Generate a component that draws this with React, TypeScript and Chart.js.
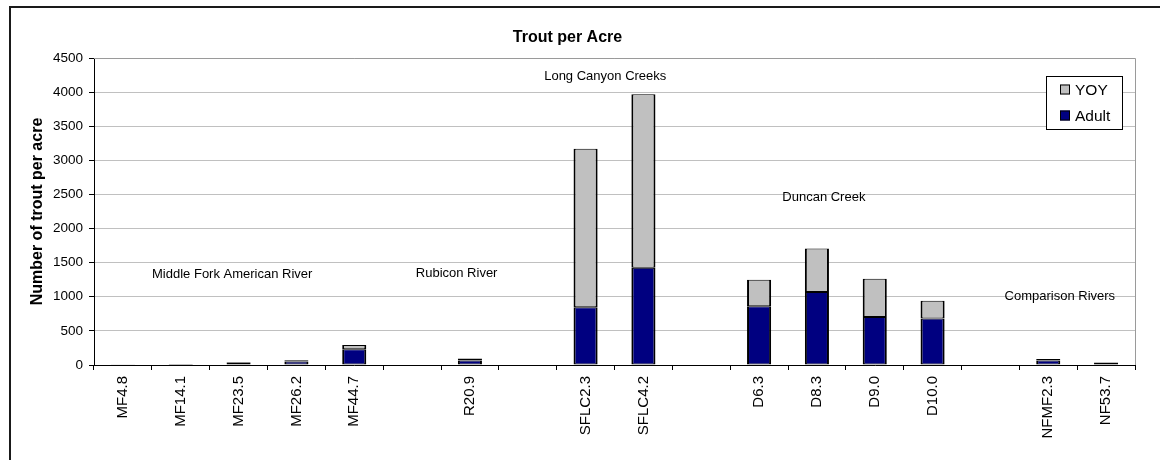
import React, { useEffect, useRef } from 'react';
import { Chart, registerables } from 'chart.js';

Chart.register(...registerables);

const categories = ['MF4.8', 'MF14.1', 'MF23.5', 'MF26.2', 'MF44.7', '', 'R20.9', '', 'SFLC2.3', 'SFLC4.2', '', 'D6.3', 'D8.3', 'D9.0', 'D10.0', '', 'NFMF2.3', 'NF53.7'];
const adultValues = [6, 8, 35, 50, 230, null, 65, null, 845, 1426, null, 860, 1070, 703, 683, null, 65, 30];
const yoyValues = [4, 5, 8, 20, 63, null, 32, null, 2325, 2544, null, 390, 639, 562, 259, null, 23, 8];
const seriesNames = ['Adult', 'YOY'];
const seriesColors = ['#000080', '#C0C0C0'];

const yMin = 0;
const yMax = 4500;
const yStep = 500;

const groupNotes = ['Middle Fork American River', 'Rubicon River', 'Long Canyon Creeks', 'Duncan Creek', 'Comparison Rivers'];
const noteCategoryPos = [1.89, 5.77, 8.34, 12.12, 16.2];
const noteValuePos = [1324, 1349, 4231, 2463, 1006];

const FONT = '"Liberation Sans", Arial, Helvetica, sans-serif';

const decorPlugin = {
  id: 'decor',
  afterDatasetsDraw(chart: any) {
    const { ctx, chartArea, scales } = chart;
    const x = scales.x;
    const y = scales.y;
    ctx.save();
    // plot area top/right border
    ctx.strokeStyle = '#9a9a9a';
    ctx.lineWidth = 1;
    ctx.beginPath();
    ctx.moveTo(chartArea.left, chartArea.top + 0.5);
    ctx.lineTo(chartArea.right + 0.5, chartArea.top + 0.5);
    ctx.lineTo(chartArea.right + 0.5, chartArea.bottom);
    ctx.stroke();

    // group notes
    ctx.fillStyle = '#000';
    ctx.font = `13px ${FONT}`;
    ctx.textAlign = 'center';
    ctx.textBaseline = 'middle';
    groupNotes.forEach((t, i) => {
      ctx.fillText(t, x.getPixelForValue(noteCategoryPos[i]), y.getPixelForValue(noteValuePos[i]));
    });

    // legend
    const lw = 76;
    const lh = 53;
    const lx = chartArea.right - 13 - lw;
    const ly = chartArea.top + 18;
    ctx.fillStyle = '#fff';
    ctx.fillRect(lx, ly, lw, lh);
    ctx.strokeStyle = '#000';
    ctx.strokeRect(lx + 0.5, ly + 0.5, lw, lh);
    const items = [1, 0];
    ctx.font = `15.5px ${FONT}`;
    ctx.textAlign = 'left';
    items.forEach((di, k) => {
      const cy = ly + 13.5 + k * 26;
      ctx.fillStyle = seriesColors[di];
      ctx.fillRect(lx + 14, cy - 5, 10, 10);
      ctx.strokeStyle = '#000';
      ctx.strokeRect(lx + 14.5, cy - 4.5, 9, 9);
      ctx.fillStyle = '#000';
      ctx.fillText(seriesNames[di], lx + 29, cy + 1);
    });

    // outer chart border
    ctx.fillStyle = '#1a1a1a';
    ctx.fillRect(9, 6, chart.width - 9, 2);
    ctx.fillRect(9, 6, 2, chart.height - 6);
    ctx.restore();
  },
};

export default function App() {
  const ref = useRef<HTMLCanvasElement>(null);
  useEffect(() => {
    document.body.style.margin = '0';
    const barStyle = {
      borderColor: '#000',
      borderWidth: { left: 2, right: 2, top: 1, bottom: 1 },
      borderSkipped: false,
      categoryPercentage: 1,
      barPercentage: 1 / 2.4,
    };
    const chart = new Chart(ref.current as HTMLCanvasElement, {
      type: 'bar',
      data: {
        labels: categories,
        datasets: [
          { label: seriesNames[0], data: adultValues, backgroundColor: seriesColors[0], ...barStyle },
          { label: seriesNames[1], data: yoyValues, backgroundColor: seriesColors[1], ...barStyle },
        ],
      },
      options: {
        responsive: false,
        animation: false,
        events: [],
        layout: { padding: { left: 0, top: 28, right: 25, bottom: 0 } },
        plugins: {
          legend: { display: false },
          tooltip: { enabled: false },
          title: {
            display: true,
            text: 'Trout per Acre',
            color: '#000',
            font: { family: FONT, size: 16, weight: 'bold', lineHeight: 1.2 },
            padding: { top: 0, bottom: 10.8 },
          },
        },
        scales: {
          x: {
            stacked: true,
            offset: true,
            grid: {
              display: true,
              drawOnChartArea: false,
              drawTicks: true,
              tickLength: 5,
              offset: true,
              tickColor: '#000',
            },
            border: { color: '#000', width: 1 },
            ticks: {
              color: '#000',
              font: { family: FONT, size: 15 },
              minRotation: 90,
              maxRotation: 90,
              autoSkip: false,
              padding: 6,
            },
            afterFit: (s: any) => {
              s.height = 95;
            },
          },
          y: {
            stacked: true,
            min: yMin,
            max: yMax,
            grid: {
              color: '#c0c0c0',
              tickColor: '#000',
              tickLength: 5,
              drawTicks: true,
            },
            border: { color: '#000', width: 1 },
            ticks: {
              stepSize: yStep,
              color: '#000',
              font: { family: FONT, size: 13.5 },
              padding: 6,
              callback: (v: any) => String(v),
            },
            title: {
              display: true,
              text: 'Number of trout per acre',
              color: '#000',
              font: { family: FONT, size: 16, weight: 'bold', lineHeight: 1.2 },
              padding: { top: 28, bottom: 0 },
            },
            afterFit: (s: any) => {
              s.width = 94;
            },
          },
        },
      },
      plugins: [decorPlugin],
    });
    return () => chart.destroy();
  }, []);
  return (
    <div style={{ width: 1160, height: 460, position: 'relative' }}>
      <canvas ref={ref} width={1160} height={460} style={{ width: 1160, height: 460, display: 'block' }} />
    </div>
  );
}
